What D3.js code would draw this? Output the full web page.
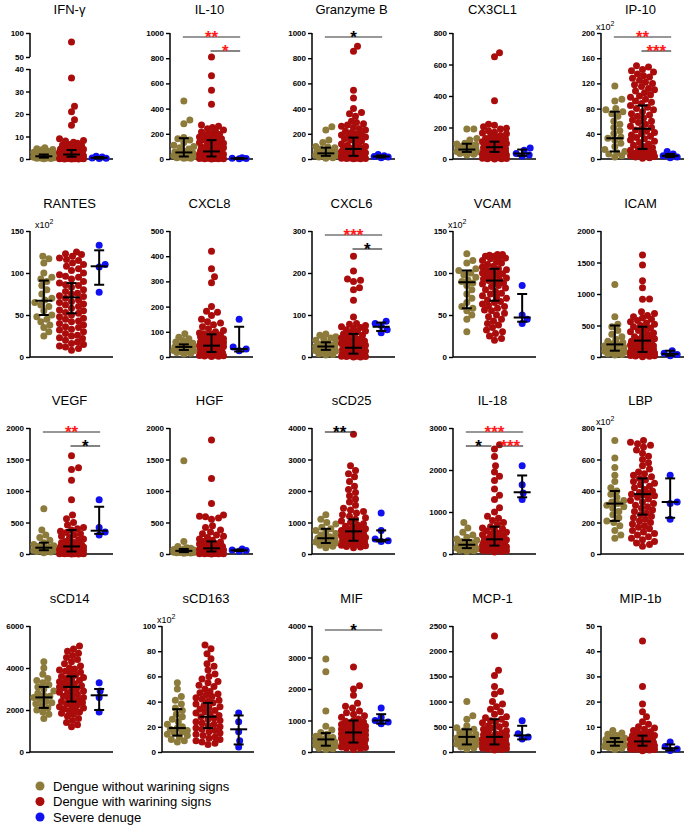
<!DOCTYPE html>
<html>
<head>
<meta charset="utf-8">
<script src="https://cdn.jsdelivr.net/npm/d3@7"></script>
<style>
  body { margin: 0; background: #fff; }
  svg { display: block; font-family: Arial, "Liberation Sans", sans-serif; }
</style>
</head>
<body>
<div id="chart"></div>
<script>
// panel titles and y axis setup
const titles = ["IFN-γ", "IL-10", "Granzyme B", "CX3CL1", "IP-10",
  "RANTES", "CXCL8", "CXCL6", "VCAM", "ICAM",
  "VEGF", "HGF", "sCD25", "IL-18", "LBP",
  "sCD14", "sCD163", "MIF", "MCP-1", "MIP-1b"];
const yMax = [100, 1000, 1000, 800, 200, 150, 500, 300, 150, 2000, 2000, 2000, 4000, 3000, 800, 6000, 100, 4000, 2500, 50];
const yStep = [10, 200, 200, 200, 40, 50, 100, 100, 50, 500, 500, 500, 1000, 1000, 200, 2000, 20, 1000, 500, 10];
const timesHundred = [4, 5, 8, 14, 16]; // panels labelled x10^2

const groups = ["Dengue without warining signs", "Dengue with warining signs", "Severe denuge"];

// values per panel, one array per group
const withoutWarning = [
  [5, 4.6, 4.2, 4, 3.5, 3, 2.8, 2.5, 2.2, 2, 1.8, 1.5, 1.3, 1.2, 1, 1, 0.9, 0.8, 0.6, 0.5, 0.4, 0.3, 0.2, 0.1],
  [460, 310, 280, 170, 160, 150, 130, 110, 100, 90, 80, 60, 55, 50, 45, 40, 30, 25, 20, 15, 10, 10, 5, 5],
  [255, 230, 150, 130, 100, 95, 90, 80, 70, 65, 60, 55, 50, 45, 45, 40, 35, 30, 28, 25, 20, 15, 10, 5],
  [190, 190, 130, 120, 100, 95, 90, 85, 80, 75, 70, 65, 60, 60, 55, 52, 50, 48, 45, 42, 40, 35, 30, 25],
  [116, 95, 92, 80, 78, 75, 72, 68, 60, 55, 50, 45, 40, 35, 33, 30, 25, 20, 15, 12, 10, 8, 5, 3],
  [120, 117, 112, 100, 95, 93, 90, 85, 80, 75, 70, 68, 65, 62, 60, 55, 50, 48, 45, 42, 38, 35, 30, 25],
  [92, 78, 72, 65, 60, 55, 50, 48, 45, 42, 40, 38, 36, 35, 33, 30, 28, 26, 25, 22, 20, 18, 15, 12],
  [55, 52, 48, 45, 42, 40, 35, 32, 30, 28, 26, 25, 24, 22, 20, 18, 17, 15, 14, 12, 10, 8, 6, 5],
  [123, 115, 112, 105, 103, 100, 98, 95, 92, 90, 88, 85, 80, 75, 70, 65, 60, 58, 55, 50, 45, 30],
  [1150, 640, 520, 480, 420, 360, 320, 280, 250, 230, 210, 200, 180, 160, 140, 120, 100, 90, 80, 70, 60, 50, 40, 30],
  [720, 380, 300, 260, 220, 180, 150, 130, 120, 110, 100, 95, 90, 85, 80, 75, 70, 60, 55, 50, 45, 40, 30, 20],
  [1480, 200, 120, 100, 90, 80, 70, 65, 60, 55, 50, 45, 40, 38, 35, 32, 30, 28, 25, 22, 20, 18, 15, 10],
  [1250, 1100, 1000, 950, 850, 800, 750, 700, 650, 600, 550, 520, 500, 480, 450, 420, 400, 380, 350, 320, 300, 280, 250, 200],
  [750, 620, 520, 450, 400, 360, 330, 300, 270, 250, 230, 220, 200, 190, 180, 160, 150, 140, 120, 110, 100, 90, 80, 60],
  [720, 610, 550, 500, 460, 420, 400, 380, 360, 340, 330, 320, 310, 300, 290, 270, 250, 230, 210, 200, 180, 150, 120, 100],
  [4300, 4000, 3700, 3500, 3400, 3300, 3200, 3100, 3000, 2900, 2800, 2700, 2650, 2600, 2500, 2400, 2350, 2300, 2200, 2100, 2000, 1900, 1800, 1600],
  [55, 50, 44, 41, 38, 35, 33, 30, 28, 26, 24, 22, 20, 19, 18, 17, 16, 15, 14, 13, 12, 10, 9, 8],
  [2950, 2550, 1300, 820, 700, 620, 560, 500, 460, 420, 400, 380, 350, 320, 300, 280, 250, 220, 200, 180, 150, 120, 100, 80],
  [1000, 720, 650, 520, 480, 450, 420, 400, 380, 350, 320, 300, 280, 250, 230, 200, 180, 160, 150, 140, 120, 100, 80, 60],
  [8.5, 7.5, 7, 6.5, 6, 5.5, 5, 5, 4.5, 4.5, 4, 4, 3.8, 3.5, 3.2, 3, 3, 2.8, 2.5, 2.2, 2, 1.8, 1.5, 1]
];

const withWarning = [
  [81, 36, 23.5, 21, 17.5, 15, 9, 8.2, 8, 7.5, 7, 6.5, 6.2, 6, 5.5, 5.2, 5, 4.8, 4.5, 4.3, 4, 4, 3.8, 3.5, 3.3, 3, 3, 2.8, 2.6, 2.5, 2.4, 2.2, 2, 2, 2, 1.9, 1.8, 1.7, 1.6, 1.5, 1.5, 1.4, 1.3, 1.2, 1.1, 1, 1, 0.9, 0.8, 0.8, 0.7, 0.6, 0.5, 0.5, 0.4, 0.4, 0.3, 0.3, 0.2, 0.2, 0.1, 0.1, 0.1, 0, 0, 0],
  [810, 660, 545, 435, 270, 260, 250, 240, 230, 220, 215, 200, 195, 190, 180, 175, 165, 160, 150, 145, 140, 130, 125, 120, 110, 105, 100, 95, 90, 85, 80, 75, 70, 65, 62, 60, 58, 55, 50, 45, 42, 40, 38, 35, 32, 30, 28, 25, 22, 20, 18, 15, 14, 12, 10, 9, 8, 7, 6, 5, 4, 3, 2, 2, 1, 0],
  [895, 855, 545, 485, 400, 370, 360, 340, 300, 290, 280, 270, 260, 250, 240, 230, 220, 210, 200, 195, 190, 185, 180, 175, 170, 160, 150, 140, 130, 120, 110, 100, 95, 90, 85, 80, 78, 75, 70, 65, 60, 55, 50, 48, 45, 40, 38, 35, 32, 30, 28, 25, 22, 20, 18, 15, 12, 10, 9, 8, 6, 5, 4, 3, 2, 1],
  [675, 650, 370, 220, 215, 205, 195, 190, 180, 170, 165, 160, 150, 145, 140, 130, 125, 120, 115, 110, 108, 105, 100, 98, 95, 92, 90, 88, 85, 82, 80, 78, 76, 75, 72, 70, 68, 65, 62, 60, 58, 55, 52, 50, 48, 45, 42, 40, 38, 35, 32, 30, 28, 25, 22, 20, 18, 15, 12, 10, 8, 5, 3, 2, 1, 0],
  [148, 146, 142, 140, 138, 135, 132, 130, 128, 125, 122, 120, 118, 115, 112, 110, 108, 105, 102, 100, 98, 95, 92, 90, 88, 85, 82, 80, 78, 75, 72, 70, 68, 65, 62, 60, 58, 55, 52, 50, 48, 46, 44, 42, 40, 38, 36, 34, 32, 30, 28, 26, 24, 22, 20, 18, 16, 15, 14, 12, 10, 9, 8, 7, 6, 5, 4, 3, 2, 1],
  [125, 123, 122, 120, 118, 116, 115, 112, 110, 108, 105, 103, 100, 98, 96, 95, 93, 90, 88, 86, 85, 83, 80, 78, 76, 75, 73, 72, 70, 68, 66, 65, 63, 62, 60, 58, 56, 55, 53, 52, 50, 48, 46, 45, 43, 42, 40, 38, 36, 35, 33, 32, 30, 28, 26, 25, 23, 22, 20, 18, 16, 15, 13, 12, 10, 8],
  [420, 350, 318, 295, 200, 182, 178, 165, 150, 140, 135, 128, 120, 112, 105, 100, 95, 92, 90, 88, 85, 82, 80, 75, 72, 70, 68, 65, 62, 60, 58, 55, 52, 50, 48, 46, 45, 44, 42, 40, 38, 36, 35, 34, 32, 30, 28, 26, 25, 24, 22, 20, 18, 17, 15, 14, 12, 10, 9, 8, 7, 6, 5, 4, 3, 2],
  [240, 205, 186, 183, 180, 165, 160, 135, 95, 80, 78, 75, 72, 70, 68, 65, 62, 60, 58, 55, 52, 50, 48, 45, 42, 40, 38, 36, 35, 33, 32, 30, 28, 26, 25, 24, 22, 20, 19, 18, 17, 16, 15, 14, 13, 12, 11, 10, 9, 8, 8, 7, 6, 6, 5, 5, 4, 4, 3, 3, 2, 2, 1, 1, 0, 0],
  [122, 122, 121, 120, 120, 119, 118, 117, 115, 113, 112, 110, 108, 107, 105, 104, 103, 102, 100, 99, 98, 97, 95, 94, 93, 92, 91, 90, 88, 87, 85, 84, 82, 80, 78, 76, 75, 73, 71, 70, 68, 66, 65, 63, 61, 60, 58, 56, 55, 52, 50, 48, 45, 43, 40, 38, 35, 32, 30, 28, 25, 22, 20],
  [1620, 1460, 1210, 1100, 920, 915, 720, 690, 660, 640, 620, 600, 580, 560, 540, 520, 500, 480, 460, 440, 420, 400, 380, 360, 340, 320, 300, 290, 280, 270, 260, 250, 240, 230, 220, 210, 200, 190, 180, 170, 160, 150, 140, 130, 120, 110, 100, 95, 90, 85, 80, 75, 70, 65, 60, 55, 50, 45, 40, 35, 30, 25, 20, 15, 10, 5],
  [1560, 1370, 1340, 1170, 860, 620, 560, 500, 460, 420, 400, 380, 360, 340, 320, 300, 280, 260, 240, 220, 200, 190, 180, 170, 160, 150, 140, 130, 125, 120, 115, 110, 105, 100, 95, 90, 85, 80, 75, 70, 65, 60, 55, 50, 45, 40, 38, 35, 32, 30, 28, 25, 22, 20, 18, 15, 12, 10, 8, 6, 5, 4, 3, 2, 1, 0],
  [1810, 1200, 800, 620, 600, 590, 570, 550, 450, 420, 380, 350, 320, 300, 280, 260, 240, 220, 200, 190, 180, 170, 160, 150, 140, 130, 120, 110, 100, 95, 90, 85, 80, 75, 70, 65, 60, 55, 50, 48, 45, 42, 40, 38, 35, 32, 30, 28, 25, 22, 20, 18, 15, 12, 10, 8, 6, 5, 4, 3, 2, 1],
  [3800, 2800, 2650, 2550, 2450, 2300, 2150, 2050, 1950, 1850, 1750, 1650, 1550, 1450, 1400, 1350, 1300, 1250, 1200, 1150, 1100, 1050, 1000, 960, 920, 880, 850, 820, 800, 780, 750, 720, 700, 680, 650, 620, 600, 580, 550, 520, 500, 480, 460, 440, 420, 400, 380, 360, 340, 320, 300, 280, 260, 240, 220, 200],
  [2600, 2500, 2320, 2100, 1950, 1850, 1750, 1550, 1400, 1300, 1100, 1000, 900, 850, 800, 750, 700, 650, 620, 600, 580, 550, 520, 500, 480, 460, 440, 420, 400, 380, 360, 350, 340, 320, 300, 290, 280, 270, 260, 250, 240, 230, 220, 210, 200, 190, 180, 170, 160, 150, 140, 130, 120, 110, 100, 90, 80, 70, 60, 50],
  [720, 710, 700, 690, 680, 660, 640, 620, 600, 580, 560, 540, 520, 510, 500, 490, 480, 470, 460, 450, 440, 430, 420, 410, 400, 390, 385, 380, 375, 370, 360, 350, 340, 330, 320, 310, 300, 290, 280, 270, 260, 250, 240, 230, 220, 210, 200, 190, 180, 170, 160, 150, 140, 130, 120, 110, 100, 90, 80, 70, 60, 50],
  [5050, 4900, 4800, 4700, 4600, 4500, 4400, 4300, 4200, 4100, 4000, 3950, 3900, 3850, 3800, 3700, 3650, 3600, 3550, 3500, 3450, 3400, 3350, 3300, 3250, 3200, 3150, 3100, 3050, 3000, 2950, 2900, 2850, 2800, 2750, 2700, 2650, 2600, 2550, 2500, 2450, 2400, 2350, 2300, 2250, 2200, 2150, 2100, 2050, 2000, 1950, 1900, 1850, 1800, 1700, 1600, 1500, 1400, 1300, 1200],
  [85, 82, 78, 74, 70, 68, 65, 62, 60, 58, 56, 55, 53, 52, 50, 48, 47, 46, 45, 44, 43, 42, 41, 40, 39, 38, 37, 36, 35, 34, 33, 32, 31, 30, 29, 28, 27, 26, 25, 24, 23, 22, 21, 20, 19, 18, 17, 16, 15, 14, 13, 12, 11, 10, 9, 8, 7, 6],
  [2700, 2100, 2000, 1800, 1550, 1450, 1400, 1300, 1250, 1200, 1150, 1100, 1050, 1000, 980, 950, 920, 900, 870, 850, 820, 800, 780, 760, 740, 720, 700, 680, 660, 640, 620, 600, 580, 560, 540, 520, 500, 480, 460, 440, 420, 400, 380, 360, 340, 320, 300, 280, 260, 240, 220, 200, 180, 160, 140, 120, 100, 80],
  [2300, 1620, 1520, 1300, 1200, 1150, 1000, 950, 900, 850, 800, 750, 700, 680, 650, 620, 600, 580, 550, 520, 500, 480, 450, 420, 400, 380, 360, 340, 320, 300, 290, 280, 270, 260, 250, 240, 230, 220, 210, 200, 190, 180, 170, 160, 150, 140, 130, 120, 110, 100, 90, 80, 70, 60, 50, 40],
  [44, 26, 19, 16, 14, 12, 11, 10, 9.5, 9, 8.5, 8, 7.5, 7, 7, 6.5, 6.5, 6, 6, 5.5, 5.5, 5, 5, 5, 4.8, 4.5, 4.5, 4.2, 4, 4, 4, 3.8, 3.5, 3.5, 3.2, 3, 3, 3, 2.8, 2.5, 2.5, 2.2, 2, 2, 1.8, 1.5, 1.5, 1.2, 1, 1, 0.8, 0.5]
];

const severe = [
  [1.2, 0.9, 0.5, 0.3, 0.2],
  [10, 6, 3, 1],
  [35, 25, 20, 15, 10],
  [70, 55, 35, 25, 18],
  [12, 8, 5, 3, 2],
  [133, 110, 107, 77],
  [150, 40, 32, 25],
  [85, 80, 75, 65, 58],
  [85, 50, 45, 40],
  [100, 60, 40, 20],
  [860, 420, 350, 300],
  [80, 65, 55, 45],
  [1300, 750, 480, 420, 400],
  [2100, 1650, 1450, 1300],
  [500, 330, 320, 220],
  [3300, 2900, 2600, 1900],
  [31, 24, 16, 9, 4],
  [1400, 1100, 1000, 950, 900],
  [620, 360, 300, 260],
  [4, 2.2, 1.2, 0.6]
];

// median with interquartile range: [q1, median, q3]
const withoutWarningIQR = [[0.6, 1.2, 2], [20, 52, 165], [25, 45, 90], [45, 60, 97], [12, 33, 75],
  [50, 67, 91], [28, 40, 50], [17, 25, 35], [58, 89, 103], [100, 200, 500],
  [60, 100, 180], [30, 50, 80], [350, 500, 800], [140, 220, 330], [210, 320, 400],
  [2100, 2600, 3100], [13, 19, 34], [200, 400, 600], [150, 300, 450], [2.5, 4, 5.5]];
const withWarningIQR = [[1, 2, 4], [20, 60, 150], [25, 80, 170], [45, 75, 110], [16, 48, 85],
  [52, 71, 88], [20, 45, 90], [8, 22, 55], [67, 91, 105], [80, 260, 480],
  [40, 120, 380], [40, 90, 200], [420, 720, 1100], [200, 350, 650], [250, 380, 480],
  [2400, 3100, 3600], [19, 28, 39], [300, 620, 1000], [150, 300, 650], [2.5, 4.2, 6.5]];
const severeIQR = [[0.2, 0.5, 0.9], [1, 4, 8], [12, 20, 28], [20, 35, 60], [3, 5, 8],
  [86, 108, 127], [22, 32, 120], [62, 72, 82], [42, 47, 75], [20, 50, 100],
  [320, 370, 750], [48, 58, 70], [400, 450, 750], [1350, 1470, 1870], [230, 330, 480],
  [2000, 2700, 3000], [6, 18, 29], [900, 1000, 1200], [250, 330, 520], [0.6, 1.5, 3]];

// significance: [panel, from group, to group, stack level, stars, red?]
const sigBars = [
  [1, 0, 2, 0, "**", true], [1, 1, 2, 1, "*", true],
  [2, 0, 2, 0, "*", false],
  [4, 0, 2, 0, "**", true], [4, 1, 2, 1, "***", true],
  [7, 0, 2, 0, "***", true], [7, 1, 2, 1, "*", false],
  [10, 0, 2, 0, "**", true], [10, 1, 2, 1, "*", false],
  [12, 0, 1, 0, "**", false],
  [13, 0, 2, 0, "***", true], [13, 0, 1, 1, "*", false], [13, 1, 2, 1, "***", true],
  [17, 0, 2, 0, "*", false]
];

const colors = ["#8c7b3b", "#aa0c0c", "#1010f0"];

// layout
const width = 685, height = 825;
const colX = [30, 170, 312, 453, 601];
const rowTop = [33, 231, 428, 626];
const titleY = [14, 208, 405, 603];
const plotH = 126, plotW = 83;
const r = 3.5;

const svg = d3.select('#chart').append('svg')
  .attr('width', width)
  .attr('height', height);

// greedy beeswarm: each dot takes the nearest free horizontal slot
function swarm(vals, y, maxHalf) {
  const pts = vals.map(v => ({ v, y: y(v), dx: 0 })).sort((a, b) => b.y - a.y);
  const placed = [];
  const d = 2 * r * 0.9;
  pts.forEach(p => {
    let best = 0, bestScore = -1;
    for (let k = 0; k <= maxHalf * 2; k++) {
      const off = (k % 2 ? 1 : -1) * Math.ceil(k / 2);
      let minD = Infinity;
      placed.forEach(q => {
        const dd = Math.hypot(q.dx - off, q.y - p.y);
        if (dd < minD) minD = dd;
      });
      if (minD >= d) { best = off; bestScore = Infinity; break; }
      if (minD > bestScore + 0.3) { bestScore = minD; best = off; }
    }
    p.dx = best;
    placed.push(p);
  });
  return pts;
}

titles.forEach((title, i) => {
  const row = Math.floor(i / 5), col = i % 5;
  let ax = colX[col], w = plotW;
  if (i === 16) { ax = 162; w = 92; }
  const top = rowTop[row];
  const g = svg.append('g').attr('transform', `translate(${ax},${top})`);

  let y;
  if (i === 0) {
    // broken axis: 0-40 below, 50-100 above
    y = d3.scaleLinear().domain([0, 40, 50, 100]).range([plotH, 36, 24, 0]);
  } else {
    y = d3.scaleLinear().domain([0, yMax[i]]).range([plotH, 0]);
  }
  const x = d3.scalePoint().domain([0, 1, 2]).range([0, w]).padding(0.5);

  // title
  svg.append('text')
    .attr('x', ax + w / 2 - 2)
    .attr('y', titleY[row])
    .attr('text-anchor', 'middle')
    .attr('font-size', 13)
    .text(title);

  // y axis
  const ticks = i === 0 ? [0, 10, 20, 30, 40, 50, 100] : d3.range(0, yMax[i] + yStep[i] / 2, yStep[i]);
  const yAxis = g.append('g')
    .call(d3.axisLeft(y).tickValues(ticks).tickSize(4).tickPadding(2).tickFormat(d3.format('d')));
  yAxis.selectAll('text').attr('font-size', 8).attr('font-weight', 'bold').attr('fill', '#000')
    .attr('font-family', 'Arial, "Liberation Sans", sans-serif');
  yAxis.selectAll('line').attr('stroke', '#000').attr('stroke-width', 1.4);
  if (i === 0) {
    yAxis.select('.domain').remove();
    g.append('line').attr('x1', 0).attr('x2', 0).attr('y1', y(0)).attr('y2', y(40))
      .attr('stroke', '#000').attr('stroke-width', 1.5);
    g.append('line').attr('x1', 0).attr('x2', 0).attr('y1', y(50)).attr('y2', y(100))
      .attr('stroke', '#000').attr('stroke-width', 1.5);
  } else {
    yAxis.select('.domain').attr('stroke', '#000').attr('stroke-width', 1.5)
      .attr('d', `M0,${plotH}V0`);
  }

  // x axis baseline
  g.append('line')
    .attr('x1', 0).attr('x2', w)
    .attr('y1', plotH).attr('y2', plotH)
    .attr('stroke', '#000').attr('stroke-width', 1.5);

  if (timesHundred.includes(i)) {
    const t = g.append('text')
      .attr('x', i === 5 ? 5 : -5)
      .attr('y', -3)
      .attr('font-size', 9)
      .text('x10');
    t.append('tspan').attr('dy', -4).attr('font-size', 7).text('2');
  }

  // dots
  const sets = [withoutWarning[i], withWarning[i], severe[i]];
  const spread = [10, 12, 8];
  sets.forEach((vals, gi) => {
    const pts = swarm(vals, y, spread[gi]);
    g.append('g').selectAll('circle')
      .data(pts)
      .enter()
      .append('circle')
      .attr('cx', d => x(gi) + d.dx)
      .attr('cy', d => d.y)
      .attr('r', r)
      .attr('fill', colors[gi]);
  });

  // median + IQR bars
  const stats = [withoutWarningIQR[i], withWarningIQR[i], severeIQR[i]];
  stats.forEach((s, gi) => {
    const cx = x(gi);
    const eb = g.append('g').attr('stroke', '#000').attr('stroke-width', 2);
    eb.append('line').attr('x1', cx).attr('x2', cx).attr('y1', y(s[0])).attr('y2', y(s[2]));
    eb.append('line').attr('x1', cx - 5).attr('x2', cx + 5).attr('y1', y(s[0])).attr('y2', y(s[0]));
    eb.append('line').attr('x1', cx - 5).attr('x2', cx + 5).attr('y1', y(s[2])).attr('y2', y(s[2]));
    eb.append('line').attr('x1', cx - 8.5).attr('x2', cx + 8.5).attr('y1', y(s[1])).attr('y2', y(s[1]));
  });

  // significance bars; bars sharing a level and an end are pulled apart
  const bars = sigBars.filter(b => b[0] === i);
  bars.forEach(b => {
    const by = b[3] === 0 ? 4 : 18;
    const shareLeft = bars.some(o => o !== b && o[3] === b[3] && o[2] === b[1]);
    const shareRight = bars.some(o => o !== b && o[3] === b[3] && o[1] === b[2]);
    const x1 = x(b[1]) + (shareLeft ? 3 : -1);
    const x2 = x(b[2]) + (shareRight ? -3 : 1);
    g.append('line')
      .attr('x1', x1).attr('x2', x2)
      .attr('y1', by).attr('y2', by)
      .attr('stroke', '#333').attr('stroke-width', 1.2);
    g.append('text')
      .attr('x', (x1 + x2) / 2)
      .attr('y', by + 6)
      .attr('text-anchor', 'middle')
      .attr('font-size', 17)
      .attr('font-weight', 'bold')
      .attr('fill', b[5] ? '#ff1a1a' : '#000')
      .text(b[4]);
  });
});

// legend
const legend = svg.append('g').attr('transform', 'translate(40,786)');
groups.forEach((name, gi) => {
  const row = legend.append('g').attr('transform', `translate(0,${gi * 15.5})`);
  row.append('circle').attr('r', 4.5).attr('fill', colors[gi]);
  row.append('text').attr('x', 13).attr('y', 4.5).attr('font-size', 13).text(name);
});
</script>
</body>
</html>
